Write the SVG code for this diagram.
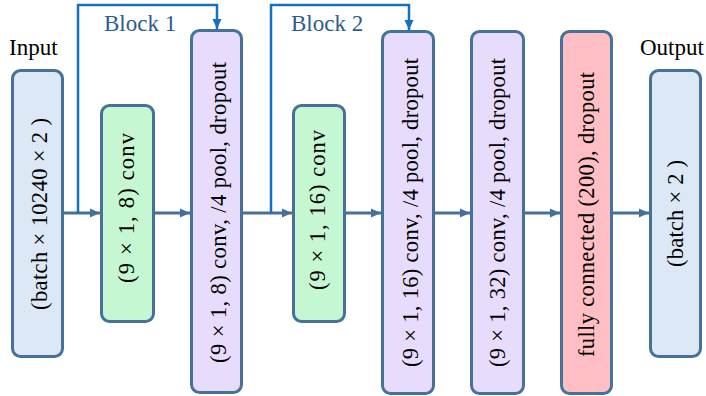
<svg xmlns="http://www.w3.org/2000/svg" width="706" height="396" viewBox="0 0 706 396">
  <defs>
    <marker id="ah" markerUnits="userSpaceOnUse" markerWidth="11" markerHeight="10" refX="10" refY="5" orient="auto">
      <path d="M0,0.5 L10,5 L0,9.5 z" fill="#44709a"/>
    </marker>
    <marker id="ahb" markerUnits="userSpaceOnUse" markerWidth="11" markerHeight="10" refX="10" refY="5" orient="auto">
      <path d="M0,0.5 L10,5 L0,9.5 z" fill="#1570c2"/>
    </marker>
    <style>
      .box { stroke: #45719b; stroke-width: 3; }
      .io { fill: #dce8f5; }
      .conv { fill: #c5f8d2; }
      .pool { fill: #e8dcfc; }
      .fc { fill: #ffbec4; }
      text { font-family: 'Liberation Serif', 'Times New Roman', serif; }
      .t { font-size: 22.5px; fill: #000; text-anchor: middle; }
      .lbl { font-size: 23px; fill: #000; }
      .blk { font-size: 23px; fill: #2b5d8c; }
      .arr { fill: none; stroke: #44709a; stroke-width: 3; marker-end: url(#ah); }
      .barr { fill: none; stroke: #1570c2; stroke-width: 2.5; marker-end: url(#ahb); }
    </style>
  </defs>

  <text class="lbl" x="9" y="55">Input</text>
  <text class="lbl" x="640" y="55">Output</text>
  <text class="blk" x="104" y="31">Block 1</text>
  <text class="blk" x="291" y="31">Block 2</text>

  <g id="connectors">
    <line class="arr" x1="64" y1="213" x2="100" y2="213"/>
    <line class="arr" x1="155" y1="213" x2="190" y2="213"/>
    <line class="arr" x1="243" y1="213" x2="292" y2="213"/>
    <line class="arr" x1="346" y1="213" x2="381" y2="213"/>
    <line class="arr" x1="435" y1="213" x2="470" y2="213"/>
    <line class="arr" x1="525" y1="213" x2="560" y2="213"/>
    <line class="arr" x1="613" y1="213" x2="649" y2="213"/>
    <polyline class="barr" points="78,213 78,5 217,5 217,29"/>
    <polyline class="barr" points="271,213 271,5 409,5 409,30"/>
  </g>

  <g id="input">
    <rect class="box io" x="12.5" y="70.5" width="50" height="286" rx="8"/>
    <text class="t" transform="translate(47,214) rotate(-90)" textLength="192" lengthAdjust="spacing">(batch × 10240 × 2 )</text>
  </g>
  <g id="conv1">
    <rect class="box conv" x="101.5" y="105.5" width="52" height="216" rx="8"/>
    <text class="t" transform="translate(134,208) rotate(-90)" textLength="150" lengthAdjust="spacing">(9 × 1, 8) conv</text>
  </g>
  <g id="pool1">
    <rect class="box pool" x="191.5" y="30.5" width="50" height="362" rx="8"/>
    <text class="t" transform="translate(226,212.5) rotate(-90)" textLength="301" lengthAdjust="spacing">(9 × 1, 8) conv, /4 pool, dropout</text>
  </g>
  <g id="conv2">
    <rect class="box conv" x="293.5" y="105.5" width="51" height="216" rx="8"/>
    <text class="t" transform="translate(325,210) rotate(-90)" textLength="160" lengthAdjust="spacing">(9 × 1, 16) conv</text>
  </g>
  <g id="pool2">
    <rect class="box pool" x="382.5" y="31.5" width="51" height="362" rx="8"/>
    <text class="t" transform="translate(418,212.5) rotate(-90)" textLength="309" lengthAdjust="spacing">(9 × 1, 16) conv, /4 pool, dropout</text>
  </g>
  <g id="pool3">
    <rect class="box pool" x="471.5" y="31.5" width="52" height="362" rx="8"/>
    <text class="t" transform="translate(505,212.5) rotate(-90)" textLength="309" lengthAdjust="spacing">(9 × 1, 32) conv, /4 pool, dropout</text>
  </g>
  <g id="fc">
    <rect class="box fc" x="561.5" y="31.5" width="50" height="362" rx="8"/>
    <text class="t" transform="translate(594,214.5) rotate(-90)" textLength="285" lengthAdjust="spacing">fully connected (200), dropout</text>
  </g>
  <g id="output">
    <rect class="box io" x="650.5" y="70.5" width="50" height="286" rx="8"/>
    <text class="t" transform="translate(683,213.5) rotate(-90)" textLength="107" lengthAdjust="spacing">(batch × 2 )</text>
  </g>
</svg>
